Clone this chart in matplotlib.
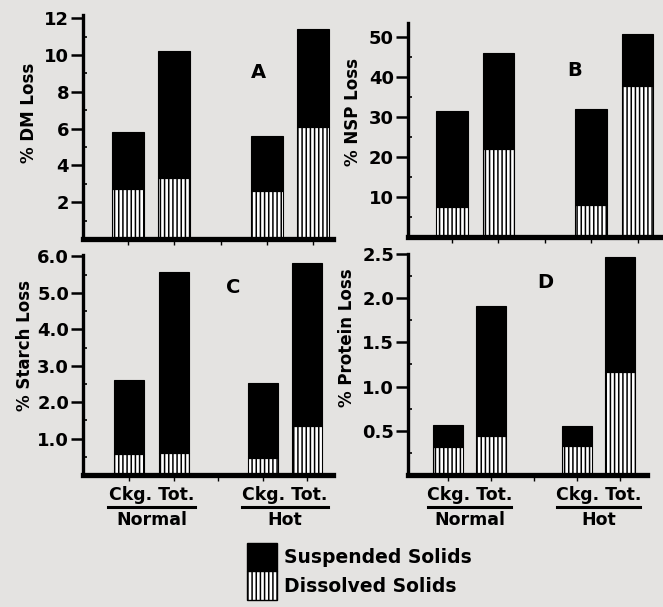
import matplotlib
matplotlib.use("Agg")
import matplotlib.pyplot as plt
from matplotlib.patches import Patch
from matplotlib.ticker import MultipleLocator
import numpy as np

plt.rcParams['font.family'] = ['DejaVu Sans']
plt.rcParams['font.weight'] = 'bold'
plt.rcParams['hatch.linewidth'] = 1.1

# bar order: Normal Ckg, Normal Tot, Hot Ckg, Hot Tot
positions = [0, 1, 3, 4]
groups = ["Normal", "Hot"]

dm_total = [5.8, 10.2, 5.6, 11.4]
dm_dissolved = [2.7, 3.3, 2.6, 6.1]
nsp_total = [31.5, 46.0, 32.0, 50.7]
nsp_dissolved = [7.5, 22.0, 8.0, 37.8]
starch_total = [2.62, 5.58, 2.53, 5.82]
starch_dissolved = [0.58, 0.60, 0.47, 1.35]
protein_total = [0.56, 1.91, 0.55, 2.47]
protein_dissolved = [0.32, 0.44, 0.33, 1.16]

W, H = 663, 607
fig = plt.figure(figsize=(W / 100, H / 100), dpi=100)
fig.patch.set_facecolor('#e4e3e1')


def panel(rect, xlim, ymax, total, dissolved, yticks, fmt, minor, ylabel, letter,
          letter_xy, ylabel_xy, bottom_labels):
    l, t, r, b = rect
    ax = fig.add_axes([l / W, (H - b) / H, (r - l) / W, (b - t) / H])
    ax.set_facecolor('none')
    total = np.array(total)
    dissolved = np.array(dissolved)
    ax.bar(positions, dissolved, width=0.68, color='white', edgecolor='black',
           hatch='||||', linewidth=0.8)
    ax.bar(positions, total - dissolved, bottom=dissolved, width=0.68,
           color='black', edgecolor='black', linewidth=0.8)
    ax.set_xlim(*xlim)
    ax.set_ylim(0, ymax)
    for s in ['top', 'right']:
        ax.spines[s].set_visible(False)
    ax.spines['left'].set_linewidth(2.4)
    ax.spines['bottom'].set_linewidth(3.8)
    ax.set_yticks(yticks)
    ax.set_yticklabels([fmt.format(v) for v in yticks], fontsize=13, fontweight='bold')
    ax.yaxis.set_minor_locator(MultipleLocator(minor))
    ax.tick_params(axis='y', which='major', length=9, width=1.8, pad=1)
    ax.tick_params(axis='y', which='minor', direction='in', length=3, width=1.2)
    ax.set_xticks([0, 1, 2, 3, 4])
    ax.set_xticklabels([])
    ax.tick_params(axis='x', length=4, width=1, direction='out')
    ax.text(ylabel_xy[0], ylabel_xy[1], ylabel, rotation=90, ha='center', va='center',
            transform=ax.transAxes, fontsize=12, fontweight='bold')
    ax.text(letter_xy[0], letter_xy[1], letter, ha='center', va='center',
            transform=ax.transAxes, fontsize=14, fontweight='bold')
    if bottom_labels:
        tr = ax.get_xaxis_transform()
        hgt = b - t
        for c, g in zip([0.5, 3.5], groups):
            ax.text(c, -20 / hgt, "Ckg. Tot.", transform=tr, ha='center', va='center',
                    fontsize=12.5, fontweight='bold')
            ax.plot([c - 0.97, c + 0.97], [-32 / hgt, -32 / hgt], transform=tr,
                    color='black', lw=2.2, clip_on=False)
            ax.text(c, -45 / hgt, g, transform=tr, ha='center', va='center',
                    fontsize=12.5, fontweight='bold')
    return ax


panel((83, 15, 333, 239), (-0.97, 4.43), 12.17, dm_total, dm_dissolved,
      [2, 4, 6, 8, 10, 12], "{:d}", 1, "% DM Loss", "A",
      (0.70, 0.745), (-0.216, 0.5625), False)
panel((408, 23, 663, 237), (-0.95, 4.55), 53.5, nsp_total, nsp_dissolved,
      [10, 20, 30, 40, 50], "{:d}", 5, "% NSP Loss", "B",
      (0.655, 0.78), (-0.216, 0.584), False)
panel((83, 255, 333, 475), (-1.04, 4.58), 6.04, starch_total, starch_dissolved,
      [1.0, 2.0, 3.0, 4.0, 5.0, 6.0], "{:.1f}", 0.5, "% Starch Loss", "C",
      (0.60, 0.85), (-0.232, 0.59), True)
panel((408, 254, 647, 475), (-0.93, 4.63), 2.50, protein_total, protein_dissolved,
      [0.5, 1.0, 1.5, 2.0, 2.5], "{:.1f}", 0.25, "% Protein Loss", "D",
      (0.573, 0.87), (-0.255, 0.62), True)

handles = [Patch(facecolor='black', edgecolor='black'),
           Patch(facecolor='white', edgecolor='black', hatch='||||')]
fig.legend(handles, ["Suspended Solids", "Dissolved Solids"],
           loc='upper left', bbox_to_anchor=(247 / W, 1 - 543 / H),
           frameon=False, prop={'weight': 'bold', 'size': 13.5},
           handlelength=1.6, handleheight=1.95, labelspacing=0,
           handletextpad=0.35, borderpad=0, borderaxespad=0)

fig.savefig("out.png", dpi=100, facecolor=fig.get_facecolor())
